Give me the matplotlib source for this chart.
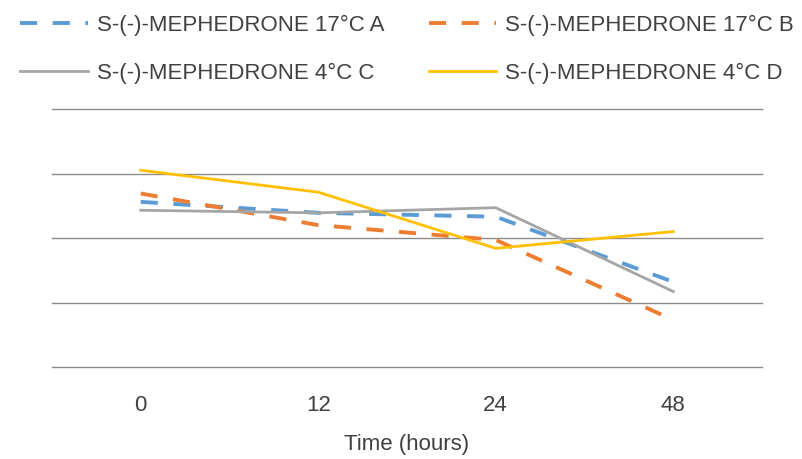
import numpy as np
import matplotlib.pyplot as plt

plt.rcParams['font.family'] = ['Liberation Sans', 'DejaVu Sans']

# time points (categorical axis)
times = ["0", "12", "24", "48"]

# (arbitrary units, gridlines at 0..4)
s17_a = [2.56, 2.39, 2.33, 1.32]
s17_b = [2.69, 2.20, 1.97, 0.73]
s4_c = [2.43, 2.39, 2.47, 1.17]
s4_d = [3.05, 2.71, 1.84, 2.10]

labels = ["S-(-)-MEPHEDRONE 17°C A", "S-(-)-MEPHEDRONE 17°C B",
          "S-(-)-MEPHEDRONE 4°C C", "S-(-)-MEPHEDRONE 4°C D"]

txt = "#404040"

fig = plt.figure(figsize=(8.03, 4.59), dpi=100)
fig.patch.set_facecolor("white")
ax = fig.add_axes([52/803, (459-367)/459, (762-52)/803, (367-109)/459])

x = np.arange(len(times))
la, = ax.plot(x, s17_a, color="#5B9BD5", lw=2.8, dashes=(4.4, 4.0), label=labels[0], zorder=3)
lb, = ax.plot(x, s17_b, color="#ED7D31", lw=2.8, dashes=(4.4, 4.0), label=labels[1], zorder=3)
lc, = ax.plot(x, s4_c, color="#A5A5A5", lw=2.0, label=labels[2], zorder=3)
ld, = ax.plot(x, s4_d, color="#FFC000", lw=2.0, label=labels[3], zorder=3)

ax.set_xlim(-0.5, len(times) - 0.5)
ax.set_ylim(0, 4)
ax.set_yticks([0, 1, 2, 3, 4])
ax.set_yticklabels([])
ax.tick_params(axis="y", length=0)
ax.tick_params(axis="x", length=0, pad=20, labelsize=16, labelcolor=txt)
ax.set_xticks(x)
ax.set_xticklabels(times)
ax.grid(axis="y", color="#8c8c8c", lw=1)
for gl in ax.get_ygridlines():
    gl.set_clip_on(False)
for s in ax.spines.values():
    s.set_visible(False)
ax.set_xlabel("Time (hours)", fontsize=16, color=txt, labelpad=13)

# legend fills column-wise, so order A, C, B, D gives rows A|B and C|D
fig.legend([la, lc, lb, ld], [labels[0], labels[2], labels[1], labels[3]],
           loc="upper left", bbox_to_anchor=(20/803, 1 - 15/459), ncol=2,
           frameon=False, fontsize=16, handlelength=3.05, handletextpad=0.4,
           columnspacing=2.0, labelspacing=1.2, borderpad=0, borderaxespad=0,
           labelcolor=txt)

fig.savefig("out.png", dpi=100, facecolor="white")
